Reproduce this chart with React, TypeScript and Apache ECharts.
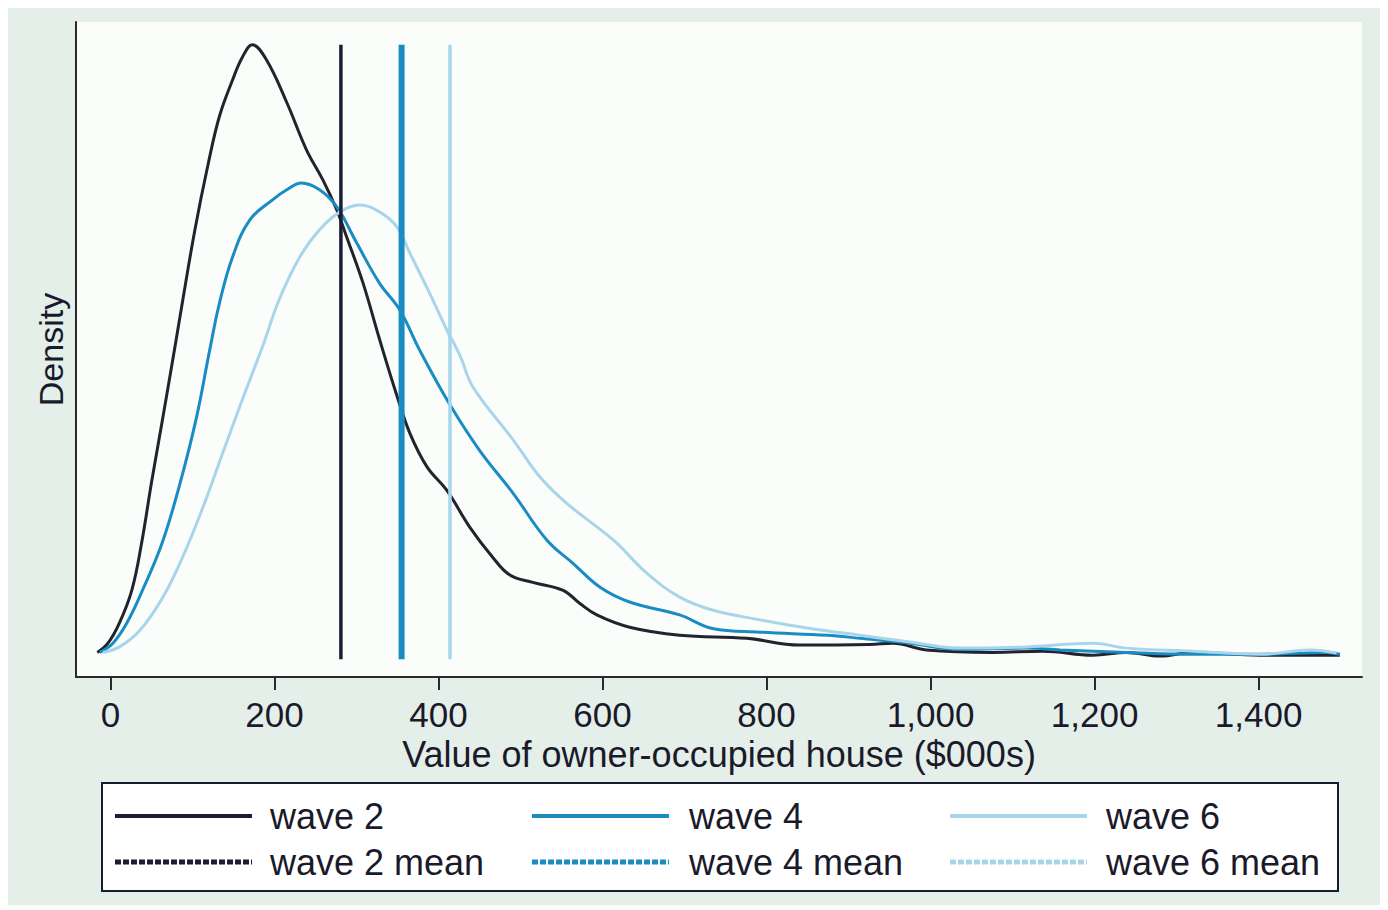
import React, { useEffect, useRef } from "react";
import * as echarts from "echarts";

// x: house value ($000s), y: density (arbitrary units, peak of wave 2 = 100)
const wave2Density: [number, number][] = [
  [-16, 1.1], [-3, 2.6], [11, 5.9], [26, 11.2], [38, 18.9], [50, 28.7], [64, 39.4],
  [78, 50.3], [87, 57.5], [103, 69.9], [119, 80.5], [133, 88.4], [149, 94.3], [161, 98],
  [173, 100], [190, 97.6], [215, 90.6], [239, 82.9], [259, 78], [276, 73.1], [288, 68.7],
  [308, 61.2], [328, 52.1], [349, 43], [365, 36.8], [386, 31.3], [410, 27.5], [438, 21.5],
  [466, 16.6], [487, 13.7], [515, 12.5], [552, 11.2], [572, 9.1], [593, 7.2], [633, 5.2],
  [694, 3.9], [776, 3.4], [840, 2.3], [926, 2.4], [954, 2.6], [995, 1.5], [1076, 1.1],
  [1137, 1.3], [1198, 0.65], [1239, 1.1], [1280, 0.5], [1320, 1.1], [1402, 0.65], [1499, 0.65],
];

const wave4Density: [number, number][] = [
  [-13, 1.1], [3, 2.6], [20, 5.9], [39, 11.2], [63, 18.9], [85, 28.7], [105, 39.4],
  [121, 50.3], [133, 58], [149, 65.5], [170, 71.5], [198, 74.8], [215, 76.4], [233, 77.5],
  [255, 76.4], [276, 73.6], [300, 67.8], [328, 61.2], [353, 56.8], [377, 50.3],
  [414, 41.4], [450, 34], [491, 27], [532, 19.4], [564, 15.6], [597, 11.7], [633, 9.3],
  [694, 7.2], [734, 5], [792, 4.4], [874, 3.9], [914, 3.4], [975, 2.6], [1036, 1.6],
  [1117, 1.8], [1158, 1.5], [1239, 1.1], [1320, 0.8], [1402, 0.8], [1483, 1.1], [1499, 0.8],
];

const wave6Density: [number, number][] = [
  [-9, 1.1], [11, 2], [36, 4.7], [64, 10.1], [88, 16.6], [113, 24.8], [137, 33.6],
  [161, 42.3], [186, 51.1], [206, 58.6], [231, 65.5], [255, 69.9], [280, 72.8], [304, 73.9],
  [328, 72.8], [349, 70.4], [365, 66.1], [389, 59.6], [410, 53.6], [426, 49.5], [442, 44.3],
  [491, 35.7], [524, 29.6], [556, 25.4], [613, 19.4], [654, 14], [694, 10.1], [734, 8],
  [792, 6.4], [853, 5], [914, 3.9], [975, 2.8], [1036, 1.8], [1117, 2], [1198, 2.6],
  [1239, 1.8], [1320, 1.3], [1402, 0.8], [1463, 1.5], [1495, 1],
];

const waveMeans = [281, 355, 414];
const meanLineHeight = [0, 100];
const xTicks = [0, 200, 400, 600, 800, 1000, 1200, 1400];
const legendLabels = ["wave 2", "wave 4", "wave 6", "wave 2 mean", "wave 4 mean", "wave 6 mean"];

const COLORS = ["#1c1d33", "#1a8cc4", "#a9d5eb"];
const CURVE_COLORS = ["#23232e", "#1a8cc4", "#a9d5eb"];
const MEAN_WIDTHS = [3.5, 6, 3.5];
const FONT = "'Liberation Sans', Arial, sans-serif";
const TEXT = "#1a1a2a";

export default function App() {
  const ref = useRef<HTMLDivElement>(null);

  useEffect(() => {
    if (!ref.current) return;
    const chart = echarts.init(ref.current, null, { renderer: "svg" });

    const curves = [wave2Density, wave4Density, wave6Density];
    const series: any[] = curves.map((d, i) => ({
      name: legendLabels[i],
      type: "line",
      data: d,
      smooth: 0.4,
      showSymbol: false,
      lineStyle: { color: CURVE_COLORS[i], width: 3 },
      z: 2,
    }));
    waveMeans.forEach((m, i) => {
      series.push({
        name: legendLabels[i + 3],
        type: "line",
        data: meanLineHeight.map((h) => [m, h]),
        showSymbol: false,
        lineStyle: { color: COLORS[i], width: MEAN_WIDTHS[i] },
        z: 3,
      });
    });

    // legend (custom-built box)
    const colLineX = [107, 524, 942];
    const colTextX = [262, 681, 1098];
    const rowY = [808, 854];
    const legendEls: any[] = [
      {
        type: "rect",
        shape: { x: 94, y: 775, width: 1236, height: 108 },
        style: { fill: "#ffffff", stroke: "#1a1a2e", lineWidth: 2 },
      },
    ];
    for (let r = 0; r < 2; r++) {
      for (let c = 0; c < 3; c++) {
        legendEls.push({
          type: "line",
          shape: { x1: colLineX[c], y1: rowY[r], x2: colLineX[c] + 137, y2: rowY[r] },
          style: {
            stroke: COLORS[c],
            lineWidth: r === 1 ? 5 : 4,
            lineDash: r === 1 ? [6, 2] : null,
          },
        });
        legendEls.push({
          type: "text",
          x: colTextX[c],
          y: rowY[r],
          style: {
            text: legendLabels[r * 3 + c],
            fontSize: 36,
            fontFamily: FONT,
            fill: TEXT,
            verticalAlign: "middle",
            align: "left",
          },
        });
      }
    }

    chart.setOption({
      animation: false,
      backgroundColor: "#e4efea",
      grid: {
        left: 68,
        top: 14,
        width: 1286,
        height: 655,
        show: true,
        backgroundColor: "#fbfdfb",
        borderWidth: 0,
      },
      xAxis: {
        type: "value",
        min: -42,
        max: 1526,
        name: "Value of owner-occupied house ($000s)",
        nameLocation: "middle",
        nameGap: 44,
        nameTextStyle: { fontSize: 36, fontFamily: FONT, color: TEXT },
        axisLine: { onZero: false, lineStyle: { color: "#2a2a2a", width: 2 } },
        axisTick: {
          show: true,
          length: 13,
          customValues: xTicks,
          lineStyle: { color: "#2a2a2a", width: 2 },
        },
        axisLabel: {
          customValues: xTicks,
          margin: 20,
          fontSize: 35,
          fontFamily: FONT,
          color: TEXT,
          formatter: (v: number) => v.toLocaleString("en-US"),
        },
        splitLine: { show: false },
      },
      yAxis: {
        type: "value",
        min: -2.9,
        max: 103.7,
        name: "Density",
        nameLocation: "middle",
        nameRotate: 90,
        nameGap: 8,
        nameTextStyle: { fontSize: 34, fontFamily: FONT, color: TEXT },
        axisLine: { show: true, onZero: false, lineStyle: { color: "#2a2a2a", width: 2 } },
        axisTick: { show: false },
        axisLabel: { show: false },
        splitLine: { show: false },
      },
      series,
      graphic: legendEls,
    });

    return () => chart.dispose();
  }, []);

  return <div ref={ref} style={{ width: 1372, height: 897 }} />;
}
